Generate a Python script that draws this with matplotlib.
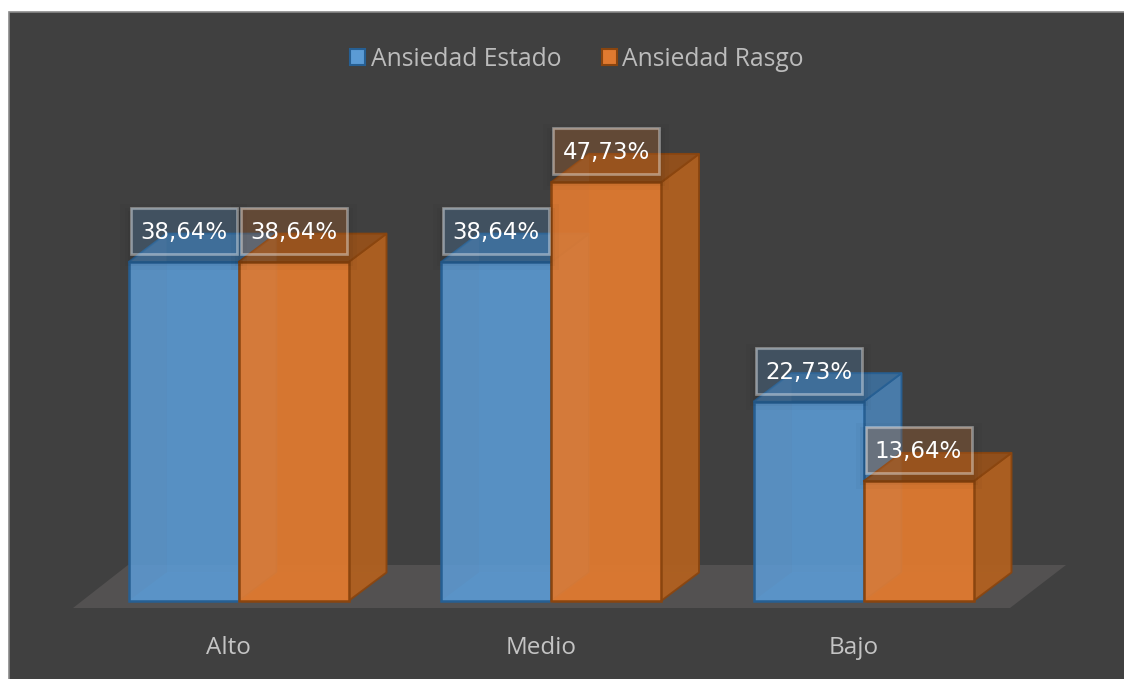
"""
Ansiedad Estado / Rasgo - faked 3D column chart, Excel style.
Output: out.png
"""

import matplotlib
matplotlib.use("Agg")
import matplotlib.pyplot as plt
from matplotlib.patches import Polygon, Rectangle

categories = ["Alto", "Medio", "Bajo"]
series_names = ["Ansiedad Estado", "Ansiedad Rasgo"]
estado = [38.64, 38.64, 22.73]
rasgo = [38.64, 47.73, 13.64]
estado_labels = ["38,64%", "38,64%", "22,73%"]
rasgo_labels = ["38,64%", "47,73%", "13,64%"]

W, H = 1124, 679
BG = "#404040"
PX_PER_CAT = 312.5   # pixels between categories
PX_PER_PCT = 8.77    # pixels per percentage point
BASE_Y = 601         # baseline in image pixels
CAT0_X = 238.5       # centre of first category in image pixels
AXES_BOTTOM = 622

BAR_W = 110 / PX_PER_CAT
DX = 38 / PX_PER_CAT
DY = 28.5 / PX_PER_PCT

fig = plt.figure(figsize=(W / 100, H / 100), dpi=100, facecolor="white")

# dark chart panel, with the thin grey edge on top and left
fig.add_artist(Rectangle((9 / W, -0.01), 1, 1.01 - 12 / H, transform=fig.transFigure,
                         facecolor=BG, edgecolor="#8a8a8a", linewidth=1.2, zorder=-1))

ax = fig.add_axes([0, (H - AXES_BOTTOM) / H, 1, AXES_BOTTOM / H])
ax.patch.set_alpha(0)
ax.set_xlim(-CAT0_X / PX_PER_CAT, (W - CAT0_X) / PX_PER_CAT)
ax.set_ylim((BASE_Y - AXES_BOTTOM) / PX_PER_PCT, BASE_Y / PX_PER_PCT)
for spine in ax.spines.values():
    spine.set_visible(False)
ax.set_yticks([])
# the category labels sit a little left of the bar pairs
ax.set_xticks([i - 10 / PX_PER_CAT for i in range(len(categories))])
ax.set_xticklabels(categories, color="#c4c4c4", fontsize=17.5, family="Open Sans")
ax.tick_params(axis="x", length=0, pad=10)

# floor
fx = lambda p: (p - CAT0_X) / PX_PER_CAT
fy = lambda p: (BASE_Y - p) / PX_PER_PCT
ax.add_patch(Polygon([(fx(73), fy(608)), (fx(1010), fy(608)), (fx(1066), fy(565)), (fx(128), fy(565))],
                     facecolor="#535151", edgecolor="none", zorder=1))


def draw_bar(x0, h, fill, edge, side, top, front_alpha, z):
    x1 = x0 + BAR_W
    # back wall, inner left wall and floor seen through the front
    ax.add_patch(Rectangle((x0 + DX, DY), BAR_W, h, facecolor=fill, alpha=0.25,
                           edgecolor="none", zorder=z))
    ax.add_patch(Polygon([(x0, 0), (x0 + BAR_W, 0), (x1 + DX, DY), (x0 + DX, DY)],
                         facecolor=fill, alpha=0.35, edgecolor="none", zorder=z))
    ax.add_patch(Polygon([(x0, 0), (x0 + DX, DY), (x0 + DX, h + DY), (x0, h)],
                         facecolor="white", alpha=0.05, edgecolor="none", zorder=z + 0.2))
    # right side and top
    ax.add_patch(Polygon([(x1, 0), (x1 + DX, DY), (x1 + DX, h + DY), (x1, h)],
                         facecolor=side, edgecolor=edge, linewidth=1.4, joinstyle="round",
                         alpha=0.92, zorder=z + 0.1))
    ax.add_patch(Polygon([(x0, h), (x1, h), (x1 + DX, h + DY), (x0 + DX, h + DY)],
                         facecolor=top, edgecolor=edge, linewidth=1.4,
                         alpha=0.92, zorder=z + 0.1))
    # front
    ax.add_patch(Rectangle((x0, 0), BAR_W, h, facecolor=fill, alpha=front_alpha,
                           edgecolor="none", zorder=z + 0.3))
    ax.add_patch(Rectangle((x0, 0), BAR_W, h, facecolor="none", edgecolor=edge,
                           linewidth=1.8, zorder=z + 0.4))


def draw_label(xc, h, text, fill):
    box_w = 106 / PX_PER_CAT
    box_h = 46 / PX_PER_PCT
    yc = h + 31 / PX_PER_PCT
    # soft shadow under the box, falling downwards
    drop = 6 / PX_PER_PCT
    for grow, a in [(10, 0.025), (6, 0.03), (3, 0.04)]:
        gx, gy = grow / PX_PER_CAT, grow / PX_PER_PCT
        ax.add_patch(Rectangle((xc - box_w / 2 - gx, yc - box_h / 2 - gy - drop), box_w + 2 * gx, box_h + 2 * gy,
                               facecolor="black", alpha=a, edgecolor="none", zorder=20))
    ax.add_patch(Rectangle((xc - box_w / 2, yc - box_h / 2), box_w, box_h, facecolor=fill, alpha=0.25,
                           edgecolor="none", zorder=21))
    ax.add_patch(Rectangle((xc - box_w / 2, yc - box_h / 2), box_w, box_h, facecolor="none",
                           edgecolor=(1, 1, 1, 0.42), linewidth=1.9, zorder=22))
    ax.text(xc, yc - 1.5 / PX_PER_PCT, text, color="white", fontsize=16.5, ha="center", va="center", zorder=23)


BLUE = dict(fill="#5b9bd5", edge="#265f93", side="#4a7fb0", top="#3d6d9a", front_alpha=0.85)
ORANGE = dict(fill="#e07a30", edge="#8a450f", side="#b0601f", top="#94501a", front_alpha=0.92)

for i in range(len(categories)):
    x_left = i - BAR_W
    draw_bar(x_left, estado[i], z=3, **BLUE)
    draw_bar(i, rasgo[i], z=6, **ORANGE)
for i in range(len(categories)):
    draw_label(i - BAR_W / 2, estado[i], estado_labels[i], BLUE["fill"])
    draw_label(i + BAR_W / 2, rasgo[i], rasgo_labels[i], ORANGE["fill"])

handles = [Rectangle((0, 0), 1, 1, facecolor=BLUE["fill"], edgecolor=BLUE["edge"], linewidth=1.5),
           Rectangle((0, 0), 1, 1, facecolor=ORANGE["fill"], edgecolor=ORANGE["edge"], linewidth=1.5)]
leg = ax.legend(handles, series_names, loc="center", bbox_to_anchor=(577 / W, 1 - 59 / AXES_BOTTOM),
                ncol=2, frameon=False, handlelength=0.62, handleheight=0.62, handletextpad=0.22,
                columnspacing=1.65, prop={"family": "Open Sans", "size": 17.7}, labelcolor="#bcbcbc")

fig.savefig("out.png", dpi=100, facecolor=fig.get_facecolor())
plt.close()
